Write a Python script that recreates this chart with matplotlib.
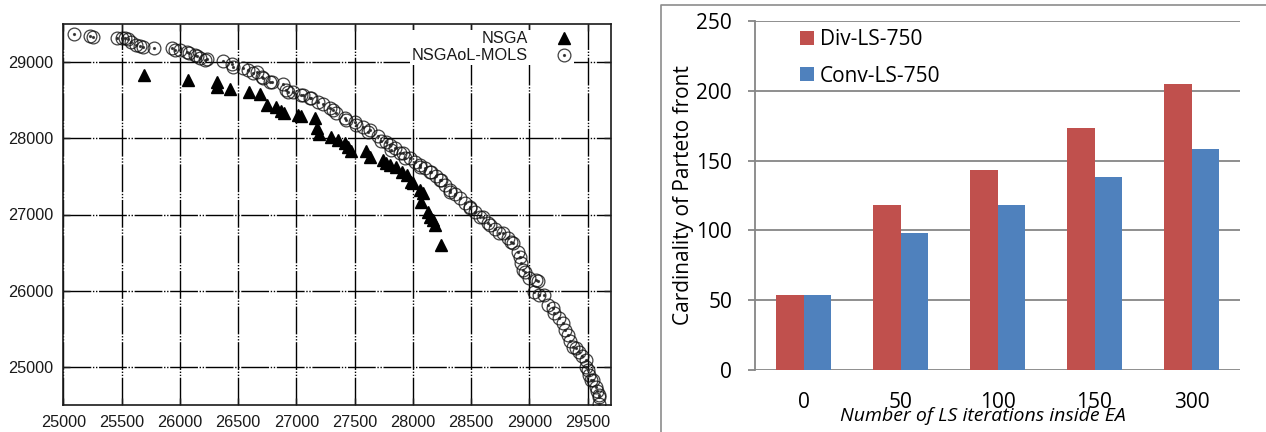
import matplotlib
matplotlib.use("Agg")
import matplotlib.pyplot as plt
from matplotlib.lines import Line2D
import numpy as np

# ---------------- data: left panel (Pareto fronts) ----------------
nsga_x = [25692, 26069, 26315, 26320, 26433, 26590, 26686, 26744, 26829, 26866,
          26896, 27014, 27044, 27158, 27179, 27192, 27301, 27357, 27415, 27443,
          27472, 27601, 27629, 27743, 27766, 27801, 27858, 27908, 27950, 27987,
          28000, 28058, 28086, 28072, 28129, 28143, 28172, 28186, 28244]
nsga_y = [28833, 28767, 28745, 28672, 28652, 28614, 28587, 28439, 28417, 28360,
          28330, 28311, 28290, 28271, 28133, 28058, 28022, 27979, 27944, 27883,
          27838, 27838, 27760, 27716, 27673, 27651, 27618, 27552, 27519, 27431,
          27410, 27322, 27279, 27168, 27037, 26971, 26928, 26862, 26599]

mols_x = [25092, 25229, 25252, 25458, 25501, 25529, 25557, 25580, 25623, 25657,
          25686, 25780, 25929, 25957, 26000, 26058, 26077, 26129, 26146, 26172,
          26215, 26229, 26372, 26444, 26457, 26543, 26586, 26629, 26658, 26701,
          26714, 26772, 26789, 26886, 26915, 26929, 26972, 27044, 27057, 27115,
          27129, 27186, 27229, 27286, 27314, 27344, 27415, 27429, 27500, 27515,
          27572, 27614, 27629, 27700, 27723, 27772, 27801, 27815, 27843, 27886,
          27915, 27929, 27972, 28015, 28058, 28058, 28101, 28143, 28158, 28195,
          28229, 28244, 28272, 28315, 28315, 28358, 28401, 28443, 28486, 28486,
          28529, 28572, 28600, 28643, 28658, 28701, 28743, 28772, 28812, 28844,
          28857, 28898, 28923, 28929, 28943, 28958, 29000, 29058, 29072, 29043,
          29086, 29129, 29157, 29200, 29215, 29257, 29286, 29309, 29329, 29352,
          29372, 29401, 29429, 29455, 29487, 29487, 29500, 29515, 29529, 29543,
          29572, 29583, 29600, 29600, 29600]
mols_y = [29372, 29346, 29323, 29315, 29315, 29313, 29302, 29267, 29227, 29205,
          29201, 29188, 29184, 29162, 29155, 29139, 29122, 29096, 29074, 29053,
          29030, 29039, 29017, 28978, 28942, 28919, 28890, 28859, 28876, 28811,
          28790, 28745, 28741, 28715, 28636, 28614, 28614, 28570, 28564, 28527,
          28527, 28482, 28452, 28396, 28373, 28330, 28264, 28242, 28219, 28176,
          28154, 28088, 28110, 28032, 27966, 27957, 27913, 27848, 27870, 27804,
          27804, 27742, 27739, 27690, 27651, 27628, 27611, 27562, 27559, 27506,
          27453, 27453, 27388, 27322, 27300, 27269, 27213, 27151, 27102, 27081,
          27033, 26971, 26971, 26884, 26862, 26810, 26753, 26753, 26691, 26639,
          26622, 26507, 26442, 26359, 26271, 26249, 26162, 26139, 26126, 25986,
          25942, 25942, 25811, 25768, 25702, 25640, 25570, 25482, 25417, 25338,
          25263, 25242, 25197, 25141, 25088, 25000, 24957, 24891, 24826, 24826,
          24737, 24681, 24628, 24606, 24519]

x_ticks_left = [25000, 25500, 26000, 26500, 27000, 27500, 28000, 28500, 29000, 29500]
y_ticks_left = [25000, 26000, 27000, 28000, 29000]

# ---------------- data: right panel (bar chart) ----------------
categories = ["0", "50", "100", "150", "300"]
div_ls = [54, 118, 143, 173, 205]
conv_ls = [54, 98, 118, 138, 158]
y_ticks_right = [0, 50, 100, 150, 200, 250]

W, H = 1266, 432
fig = plt.figure(figsize=(W / 100, H / 100), dpi=100)

# ================= LEFT PANEL =================
ax1 = fig.add_axes([63.3 / W, 1 - 405 / H, (611 - 63.3) / W, (405 - 24) / H])
ax1.set_xlim(25000, 29700)
ax1.set_ylim(24500, 29500)
ax1.set_xticks(x_ticks_left)
ax1.set_yticks(y_ticks_left)
ax1.grid(True, color="black", linewidth=1.0,
         linestyle=(0, (20, 1.2, 1, 1.2, 1, 1.2)))
ax1.set_axisbelow(True)
for sp in ax1.spines.values():
    sp.set_linewidth(1.2)
    sp.set_color("#1a1a1a")
ax1.tick_params(direction="in", top=True, right=True, length=5, width=1.0,
                labelsize=11.7, pad=7, colors="#1a1a1a")
for lab in ax1.get_xticklabels() + ax1.get_yticklabels():
    lab.set_fontfamily("Liberation Sans")

h_tri, = ax1.plot(nsga_x, nsga_y, ls="none", marker="^", ms=8.6,
                  color="black", zorder=3)
h_circ, = ax1.plot(mols_x, mols_y, ls="none", marker="o", ms=9.2,
                   mfc="none", mec="#111111", mew=0.9, alpha=0.8, zorder=4)
h_dot, = ax1.plot(mols_x, mols_y, ls="none", marker="o", ms=1.3,
                  color="#222222", alpha=0.8, zorder=4)

leg1 = ax1.legend([h_tri, (h_circ, h_dot)], ["NSGA", "NSGAoL-MOLS"],
                  loc="upper right", bbox_to_anchor=(0.9325, 0.985),
                  markerfirst=False, frameon=True, fancybox=False,
                  borderpad=0.1, borderaxespad=0, labelspacing=0.12,
                  handlelength=1.0, handletextpad=1.75,
                  prop={"family": "Liberation Sans", "size": 11.7})
leg1.get_frame().set_facecolor("white")
leg1.get_frame().set_edgecolor("none")
leg1.get_frame().set_alpha(1)
for t in leg1.get_texts():
    t.set_ha("right")
    t.set_color("#1a1a1a")

# ================= RIGHT PANEL =================
red = "#C0504D"
blue = "#4F81BD"
grid_gray = "#868686"
font_r = "Open Sans"

ax2 = fig.add_axes([755 / W, 1 - 370 / H, (1240 - 755) / W, (370 - 21) / H])
xpos = np.arange(len(categories))
bw = 0.286
ax2.bar(xpos - bw / 2, div_ls, width=bw, color=red, label="Div-LS-750", zorder=3)
ax2.bar(xpos + bw / 2, conv_ls, width=bw, color=blue, label="Conv-LS-750", zorder=3)
ax2.set_xlim(-0.5, len(categories) - 0.5)
ax2.set_ylim(0, 250)
ax2.set_yticks(y_ticks_right)
ax2.set_xticks(xpos)
ax2.set_xticklabels(categories)
ax2.yaxis.grid(True, color=grid_gray, linewidth=1.3)
ax2.set_axisbelow(True)
for s in ["top", "right", "bottom"]:
    ax2.spines[s].set_visible(False)
ax2.spines["left"].set_color(grid_gray)
ax2.spines["left"].set_linewidth(1.3)
ax2.tick_params(axis="y", direction="out", length=5, width=1.3, color=grid_gray,
                pad=11.5, labelsize=15, labelcolor="black")
ax2.tick_params(axis="x", length=0, pad=16, labelsize=15, labelcolor="black")
for lab in ax2.get_xticklabels() + ax2.get_yticklabels():
    lab.set_fontfamily(font_r)

ax2.set_ylabel("Cardinality of Parteto front", fontsize=15, family=font_r)
ax2.yaxis.set_label_coords(-0.126, 0.5)
ax2.set_xlabel("Number of LS iterations inside EA", fontsize=14, family=font_r,
               style="italic")
ax2.xaxis.set_label_coords(0.469, -0.105)

leg2 = ax2.legend(loc="upper left", bbox_to_anchor=(0.093, 0.977),
                  frameon=False, borderpad=0, borderaxespad=0,
                  handlelength=0.65, handleheight=0.65, handletextpad=0.3,
                  labelspacing=0.75, prop={"family": font_r, "size": 15})

# outer frame around the right chart (open at right and bottom)
fig.add_artist(Line2D([661 / W, 661 / W, 1.0], [0.0, 1 - 5 / H, 1 - 5 / H],
                      transform=fig.transFigure, color="#8c8c8c", lw=1.2))

fig.savefig("out.png", dpi=100)
